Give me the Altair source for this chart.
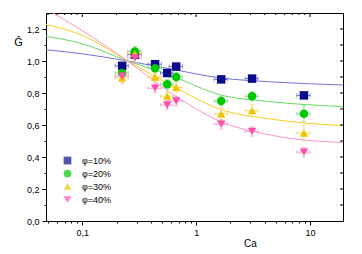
import altair as alt
import pandas as pd

# ---- data ----
SERIES = ["φ=10%", "φ=20%", "φ=30%", "φ=40%"]
CA = [0.224, 0.29, 0.436, 0.557, 0.668, 1.66, 3.1, 8.85]
CA_ERR = [0.03, 0.04, 0.06, 0.07, 0.09, 0.22, 0.4, 1.2]

G10 = [0.97, 1.04, 0.98, 0.925, 0.965, 0.885, 0.89, 0.785]
G20 = [0.925, 1.06, 0.955, 0.855, 0.90, 0.75, 0.78, 0.67]
G30 = [0.895, 1.045, 0.90, 0.78, 0.835, 0.67, 0.69, 0.55]
G40 = [0.905, 1.02, 0.83, 0.725, 0.75, 0.605, 0.56, 0.43]

E10 = [0.02, 0.02, 0.02, 0.02, 0.02, 0.02, 0.02, 0.015]
E20 = [0.03, 0.03, 0.03, 0.03, 0.03, 0.03, 0.03, 0.05]
E30 = [0.04, 0.03, 0.03, 0.03, 0.03, 0.04, 0.04, 0.05]
E40 = [0.04, 0.03, 0.03, 0.03, 0.03, 0.03, 0.03, 0.03]

FIT_CA = [0.048, 0.1, 0.25, 0.6, 1.6, 4.5, 19.5]
FIT10 = [1.07, 1.045, 1.0, 0.95, 0.895, 0.87, 0.85]
FIT20 = [1.154, 1.108, 1.0, 0.91, 0.79, 0.746, 0.715]
FIT30 = [1.229, 1.16, 1.0, 0.85, 0.70, 0.637, 0.596]
FIT40 = [1.325, 1.19, 1.0, 0.80, 0.625, 0.537, 0.49]

X_MAJOR = [0.1, 1, 10]
X_MINOR = [0.05, 0.06, 0.07, 0.08, 0.09, 0.2, 0.3, 0.4, 0.5, 0.6, 0.7, 0.8, 0.9,
           2, 3, 4, 5, 6, 7, 8, 9]
Y_TICKS = [0.0, 0.1, 0.2, 0.3, 0.4, 0.5, 0.6, 0.7, 0.8, 0.9, 1.0, 1.1, 1.2]

# ---- styles ----
MARK_COLORS = ["#0c0c8e", "#00c800", "#f2c400", "#ff4fa8"]
LINE_COLORS = ["#7474d6", "#66d866", "#f6d020", "#ff92c8"]
ERR_COLORS = ["#6d6dc4", "#7ee07e", "#f5d860", "#ff9cd0"]
SHAPES = ["square", "circle", "triangle-up", "triangle-down"]

gs = [G10, G20, G30, G40]
es = [E10, E20, E30, E40]
fits = [FIT10, FIT20, FIT30, FIT40]

pts, fit_rows = [], []
for k, s in enumerate(SERIES):
    for i, c in enumerate(CA):
        g, e = gs[k][i], es[k][i]
        pts.append(dict(series=s, k=k, Ca=c, G=g, xlo=c - CA_ERR[i], xhi=c + CA_ERR[i],
                        ylo=g - e, yhi=g + e, ec=ERR_COLORS[k]))
    for i, c in enumerate(FIT_CA):
        fit_rows.append(dict(series=s, k=k, Ca=c, G=fits[k][i], lc=LINE_COLORS[k]))
df = pd.DataFrame(pts)
fdf = pd.DataFrame(fit_rows)

W, H = 297, 208
xs = alt.Scale(type="log", domain=[0.048, 19.5], nice=False)
ys = alt.Scale(domain=[0, 1.3], nice=False)

x_axis = alt.Axis(
    values=X_MAJOR + X_MINOR, grid=False, domain=False,
    tickSize=alt.condition("datum.value == 0.1 || datum.value == 1 || datum.value == 10",
                           alt.value(4), alt.value(2)),
    labelExpr="datum.value == 0.1 ? '0,1' : (datum.value == 1 ? '1' : (datum.value == 10 ? '10' : ''))",
    labelOverlap=False, labelFlush=False, labelPadding=3,
    title="Ca", titleX=204, titleY=22, titleAlign="center", titleBaseline="middle",
    titleFontWeight="normal", titleFontSize=10,
)
y_axis = alt.Axis(
    values=Y_TICKS, grid=False, domain=False,
    tickSize=alt.condition("abs(datum.value*5 - round(datum.value*5)) < 0.001",
                           alt.value(4), alt.value(2)),
    labelExpr="abs(datum.value*5 - round(datum.value*5)) < 0.001 ? replace(format(datum.value, '.1f'), '.', ',') : ''",
    labelOverlap=False, labelPadding=3,
    title="Ĝ", titleAngle=0, titleX=-28, titleY=29, titleAlign="center",
    titleBaseline="middle", titleFontWeight="normal", titleFontSize=11,
)


def X(f):
    return alt.X(f, scale=xs, axis=x_axis, title="Ca")


def Y(f):
    return alt.Y(f, scale=ys, axis=y_axis, title="Ĝ")


lines = alt.Chart(fdf).mark_line(interpolate="monotone", strokeWidth=1, clip=True).encode(
    x=X("Ca:Q"), y=Y("G:Q"),
    detail="series:N",
    color=alt.Color("lc:N", scale=None),
    order="k:O",
)

xerr = alt.Chart(df).mark_errorbar(ticks=alt.TickConfig(size=4, thickness=1), thickness=1).encode(
    x=X("xlo:Q"), x2="xhi:Q", y=Y("G:Q"),
    color=alt.Color("ec:N", scale=None),
)
yerr = alt.Chart(df).mark_errorbar(ticks=alt.TickConfig(size=4, thickness=1), thickness=1).encode(
    y=Y("ylo:Q"), y2="yhi:Q", x=X("Ca:Q"),
    color=alt.Color("ec:N", scale=None),
)

leg = alt.Legend(title=None, orient="none", legendX=17, legendY=143, symbolSize=60,
                 labelFontSize=9, rowPadding=3, labelOffset=10, padding=0,
                 symbolStrokeWidth=0)
points = alt.Chart(df).mark_point(filled=True, size=72, opacity=1).encode(
    x=X("Ca:Q"), y=Y("G:Q"),
    color=alt.Color("series:N", scale=alt.Scale(domain=SERIES, range=MARK_COLORS), legend=leg),
    shape=alt.Shape("series:N", scale=alt.Scale(domain=SERIES, range=SHAPES), legend=leg),
    order="k:O",
)

top_major = alt.Chart(pd.DataFrame({"v": X_MAJOR})).mark_rule(color="black", strokeWidth=1).encode(
    x=X("v:Q"), y=alt.value(0), y2=alt.value(4))
top_minor = alt.Chart(pd.DataFrame({"v": X_MINOR})).mark_rule(color="black", strokeWidth=1).encode(
    x=X("v:Q"), y=alt.value(0), y2=alt.value(2))
right_ticks = alt.Chart(pd.DataFrame({"v": Y_TICKS[1:]})).mark_rule(color="black", strokeWidth=1).encode(
    y=Y("v:Q"), x=alt.value(W - 3), x2=alt.value(W))

chart = alt.layer(lines, xerr, yerr, points, top_major, top_minor, right_ticks).properties(
    width=W, height=H,
    autosize=alt.AutoSizeParams(type="none"),
    padding={"left": 38, "top": 5, "right": 11, "bottom": 30},
).configure(
    font="Liberation Sans"
).configure_view(stroke="black", strokeWidth=1).configure_axis(
    labelFontSize=9, labelColor="black", tickColor="black", titleColor="black",
    labelFont="Liberation Sans", titleFont="Liberation Sans",
).configure_legend(labelFont="Liberation Sans", labelColor="black")

chart.save("out.html", embed_options={"renderer": "svg", "actions": False})
